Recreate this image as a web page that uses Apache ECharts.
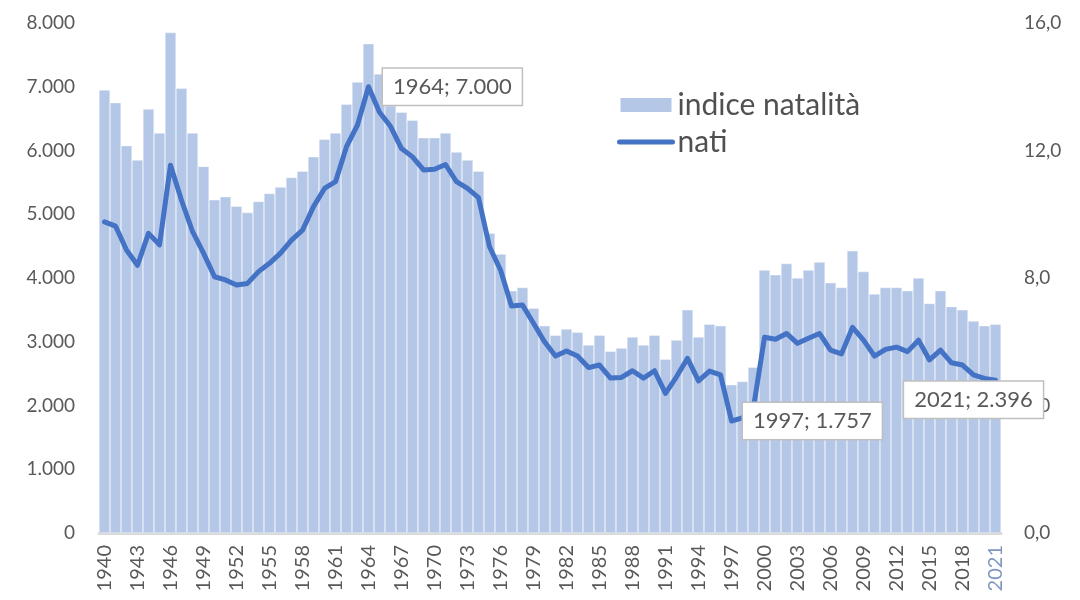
<!DOCTYPE html>
<html>
<head>
<meta charset="utf-8">
<script src="https://cdn.jsdelivr.net/npm/echarts@6.0.0/dist/echarts.min.js"></script>
<style>
  html, body { margin: 0; padding: 0; background: #fff; }
  #chart { width: 1080px; height: 600px; }
</style>
</head>
<body>
<div id="chart"></div>
<script>
const anni = [
  '1940','1941','1942','1943','1944','1945','1946','1947','1948','1949',
  '1950','1951','1952','1953','1954','1955','1956','1957','1958','1959',
  '1960','1961','1962','1963','1964','1965','1966','1967','1968','1969',
  '1970','1971','1972','1973','1974','1975','1976','1977','1978','1979',
  '1980','1981','1982','1983','1984','1985','1986','1987','1988','1989',
  '1990','1991','1992','1993','1994','1995','1996','1997','1998','1999',
  '2000','2001','2002','2003','2004','2005','2006','2007','2008','2009',
  '2010','2011','2012','2013','2014','2015','2016','2017','2018','2019',
  '2020','2021'
]

// indice natalità (asse destro)
const indiceNatalita = [
  13.9, 13.5, 12.15, 11.7, 13.3, 12.55, 15.7, 13.95, 12.55, 11.5,
  10.45, 10.55, 10.25, 10.05, 10.4, 10.65, 10.85, 11.15, 11.35, 11.8,
  12.35, 12.55, 13.45, 14.15, 15.35, 14.4, 13.4, 13.2, 12.95, 12.4,
  12.4, 12.55, 11.95, 11.7, 11.35, 9.4, 8.75, 7.6, 7.7, 7.05,
  6.5, 6.2, 6.4, 6.3, 5.9, 6.2, 5.7, 5.8, 6.15, 5.9,
  6.2, 5.45, 6.05, 7.0, 6.15, 6.55, 6.5, 4.65, 4.75, 5.2,
  8.25, 8.1, 8.45, 8.0, 8.25, 8.5, 7.85, 7.7, 8.85, 8.2,
  7.5, 7.7, 7.7, 7.6, 8.0, 7.2, 7.6, 7.1, 7.0, 6.65,
  6.5, 6.55
]

// nati (asse sinistro)
const nati = [
  4880, 4815, 4440, 4200, 4700, 4520, 5770, 5220, 4730, 4390,
  4020, 3970, 3890, 3915, 4100, 4230, 4390, 4595, 4750, 5120,
  5405, 5510, 6060, 6400, 7000, 6600, 6380, 6030, 5900, 5695,
  5705, 5780, 5510, 5405, 5260, 4490, 4125, 3560, 3575, 3290,
  3000, 2775, 2855, 2775, 2595, 2635, 2430, 2440, 2545, 2430,
  2545, 2190, 2450, 2740, 2385, 2540, 2480, 1757, 1805, 1970,
  3070, 3040, 3130, 2975, 3055, 3130, 2870, 2810, 3225, 3025,
  2775, 2880, 2915, 2845, 3025, 2715, 2870, 2670, 2635, 2480,
  2425, 2396
]

const anniEvidenziati = ['1964', '1997', '2021']

const grigio = '#595959'
const font = 'Lato, "Liberation Sans", sans-serif'

function migliaia(v) {
  return String(v).replace(/\B(?=(\d{3})+(?!\d))/g, '.')
}

// posizione delle etichette a fumetto
const posEtichetta = {
  '1964': { position: 'right', distance: 14 },
  '1997': { position: 'right', distance: 11 },
  '2021': { position: 'bottom', distance: 1, offset: [-22, 0] }
}

const chart = echarts.init(document.getElementById('chart'))

chart.setOption({
  animation: false,
  textStyle: { fontFamily: font },
  grid: { left: 99, right: 79, top: 23, bottom: 67, outerBoundsMode: 'none' },
  legend: {
    orient: 'vertical',
    left: 612,
    top: 85,
    itemWidth: 53,
    itemHeight: 16,
    itemGap: 7,
    textStyle: { fontSize: 30, lineHeight: 30, color: '#505050', fontFamily: font },
    data: [
      { name: 'indice natalità', icon: 'rect' },
      { name: 'nati', itemStyle: { opacity: 0 }, lineStyle: { width: 5, color: '#4472c4' } }
    ]
  },
  xAxis: {
    type: 'category',
    data: anni,
    boundaryGap: true,
    axisLine: { lineStyle: { color: '#d9d9d9', width: 3 } },
    axisTick: { show: false },
    axisLabel: {
      interval: 2,
      rotate: 90,
      margin: 12,
      fontSize: 20,
      fontFamily: font,
      color: (v) => (v === '2021' ? '#7f97c0' : grigio)
    }
  },
  yAxis: [
    {
      type: 'value',
      min: 0,
      max: 8000,
      interval: 1000,
      axisLine: { show: false },
      axisTick: { show: false },
      splitLine: { show: false },
      axisLabel: { fontSize: 19, color: grigio, margin: 24, fontFamily: font, formatter: (v) => migliaia(v) }
    },
    {
      type: 'value',
      min: 0,
      max: 16,
      interval: 4,
      axisLine: { show: false },
      axisTick: { show: false },
      splitLine: { show: false },
      axisLabel: { fontSize: 19, color: grigio, margin: 23, fontFamily: font, formatter: (v) => v.toFixed(1).replace('.', ',') }
    }
  ],
  series: [
    {
      name: 'indice natalità',
      type: 'bar',
      yAxisIndex: 1,
      data: indiceNatalita,
      barCategoryGap: '0%',
      itemStyle: { color: '#b4c7e7', borderColor: '#ffffff', borderWidth: 0.4 }
    },
    {
      name: 'nati',
      type: 'line',
      yAxisIndex: 0,
      data: nati,
      symbol: 'none',
      lineStyle: { color: '#4472c4', width: 5, join: 'round', cap: 'round' },
      itemStyle: { color: '#4472c4' },
      markPoint: {
        symbol: 'circle',
        symbolSize: 1,
        itemStyle: { color: 'rgba(0,0,0,0)' },
        label: {
          show: true,
          formatter: (p) => p.name + '; ' + migliaia(p.value),
          fontSize: 22,
          fontFamily: font,
          color: grigio,
          backgroundColor: '#ffffff',
          borderColor: '#bfbfbf',
          borderWidth: 1.5,
          padding: [7, 10]
        },
        data: anniEvidenziati.map((a) => {
          const i = anni.indexOf(a)
          return {
            name: a,
            coord: [a, nati[i]],
            value: nati[i],
            label: posEtichetta[a]
          }
        })
      }
    }
  ]
})
</script>
</body>
</html>
